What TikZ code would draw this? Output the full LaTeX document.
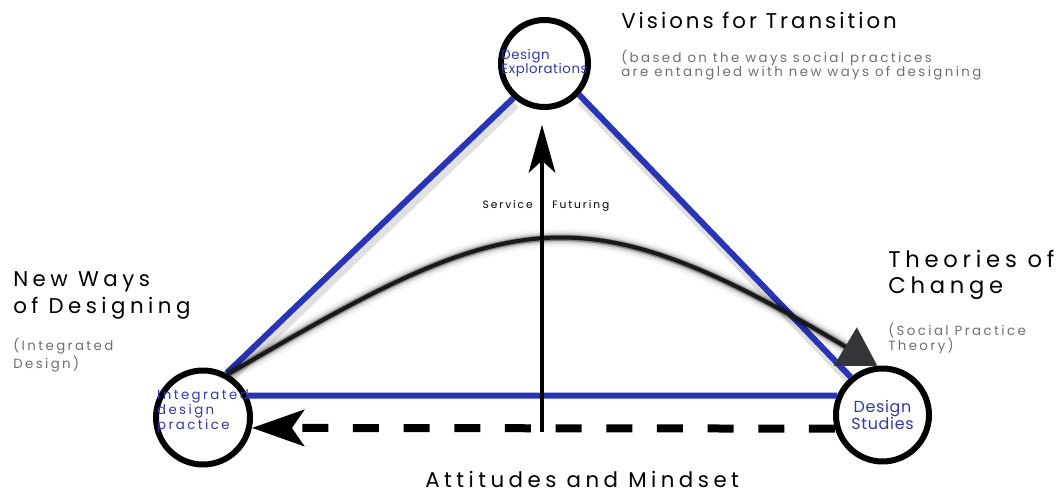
\documentclass[tikz,border=0pt]{standalone}
\usepackage{fontspec}
\setmainfont{Poppins}
\newfontfamily\widefont[LetterSpace=14]{Poppins}
\newfontfamily\widerfont[LetterSpace=21]{Poppins}
\newfontfamily\smallfont[LetterSpace=18]{Poppins}
\newfontfamily\hubfont[LetterSpace=4]{Poppins}
\usetikzlibrary{arrows.meta,backgrounds}
\definecolor{linkblue}{HTML}{2A35B5}
\definecolor{labelblue}{HTML}{2F3C9E}
\definecolor{softgray}{HTML}{707070}
\definecolor{tipgray}{HTML}{333538}
\tikzset{
  hub/.style={circle, draw=black, line width=4.5pt, fill=white, inner sep=0pt},
  hublabel/.style={text=labelblue, align=left, inner sep=0pt, font=\hubfont\fontsize{10}{10.5}\selectfont},
  bluelink/.style={draw=linkblue, line width=4.5pt},
  linkshadow/.style={draw=black, line width=7pt, opacity=0.12, transform canvas={shift={(2,6)}}},
  haze/.style={draw=black, shorten >=24pt},
  swoop/.style={draw=black!90, line width=3pt, -{Triangle[length=28pt, width=33pt, color=tipgray]}},
  uparrow/.style={draw=black, line width=3pt, -{Stealth[length=36pt, width=20pt, inset=9pt]}, shorten >=11pt},
  dasharrow/.style={draw=black, line width=6pt, dash pattern=on 19.5pt off 18.5pt, -{Stealth[length=39pt, width=27pt, inset=9pt]}},
  title/.style={anchor=base west, inner sep=0pt, align=left, font=\widerfont\fontsize{16}{20.25}\selectfont},
  subtitle/.style={anchor=base west, inner sep=0pt, align=left, text=softgray, font=\smallfont\fontsize{10}{11.25}\selectfont},
  tag/.style={inner sep=0pt, font=\smallfont\fontsize{8}{9}\selectfont}
}

\begin{document}
\begin{tikzpicture}[x=0.75pt, y=-0.75pt, show background rectangle, inner frame sep=0pt, background rectangle/.style={fill=white}]
  \useasboundingbox (0,0) rectangle (1064,493);

  \node[hub, minimum size=65.25pt, label={[hublabel]center:Design\\Explorations}] (expl) at (544.5,63.5) {};
  \node[hub, minimum size=70.5pt, label={[hublabel, yshift=5pt, font=\smallfont\fontsize{10}{11.25}\selectfont]center:Integrated\\design\\practice}] (prac) at (203,417.5) {};
  \node[hub, minimum size=69.75pt, label={[hublabel, align=center, font=\hubfont\fontsize{12}{12.75}\selectfont]center:Design\\Studies}] (stud) at (882.5,415) {};

  % shadows under the two slanted links
  \draw[linkshadow] (prac.62) -- (expl.228);
  \draw[linkshadow] (expl.-42) -- (stud.130);

  \draw[bluelink] (prac.62) -- (expl.228);
  \draw[bluelink] (expl.-42) -- (stud.130);
  \draw[bluelink] (prac.26) -- (stud.157);

  % soft curve from practice over to studies
  \draw[haze, line width=13.5pt, opacity=0.04] (prac.60) .. controls (509,210) and (575,185) .. (stud.96);
  \draw[haze, line width=9.75pt, opacity=0.07] (prac.60) .. controls (509,210) and (575,185) .. (stud.96);
  \draw[haze, line width=6.75pt, opacity=0.14] (prac.60) .. controls (509,210) and (575,185) .. (stud.96);
  \draw[haze, line width=4.5pt, opacity=0.35] (prac.60) .. controls (509,210) and (575,185) .. (stud.96);
  \draw[swoop] (prac.60) .. controls (509,210) and (575,185) .. (stud.96);

  \coordinate (svbase) at (542,432);
  \draw[uparrow] (svbase) -- (svbase |- expl.south);
  \draw[dasharrow] (stud.196) -- (prac.-12);

  \node[tag, anchor=base east] (serv) at (533,208) {Service};
  \node[tag, anchor=base west] (fut) at (552,208) {Futuring};

  \node[title, font=\widefont\fontsize{16}{20.25}\selectfont] (vis) at (621,28) {Visions for Transition};
  \node[subtitle, font=\smallfont\fontsize{10}{10.5}\selectfont] (vissub) at (621,76) {(based on the ways social practices\\are entangled with new ways of designing};
  \node[title] (ways) at (13,313) {New Ways\\of Designing};
  \node[subtitle] (wayssub) at (13,368) {(Integrated\\Design)};
  \node[title, font=\widerfont\fontsize{17}{19.5}\selectfont] (theo) at (888,293) {Theories of\\Change};
  \node[subtitle] (theosub) at (888,350) {(Social Practice\\Theory)};
  \node[title] (att) at (425,487) {Attitudes and Mindset};
\end{tikzpicture}
\end{document}
